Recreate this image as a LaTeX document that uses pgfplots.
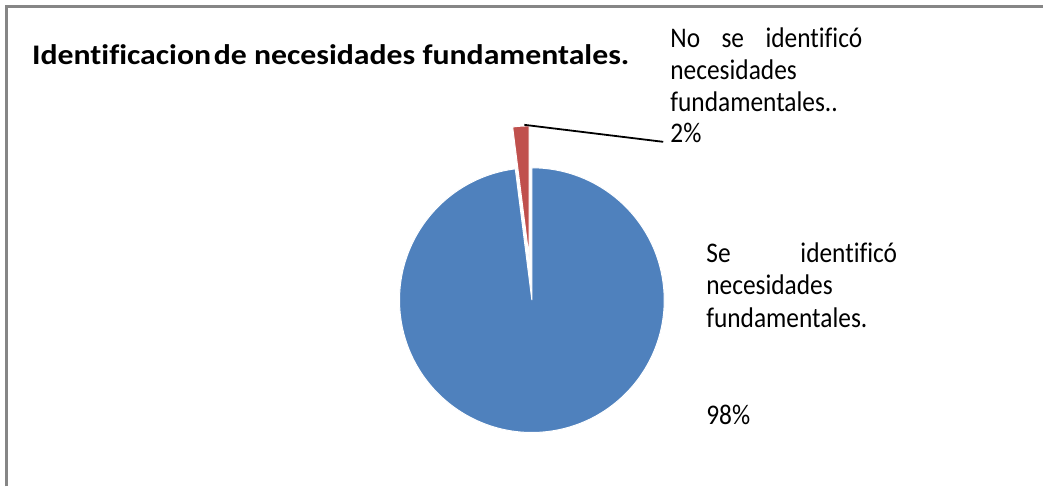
\documentclass[border=0pt]{standalone}
\usepackage{pgfplots}
\pgfplotsset{compat=1.18}
\usepackage{pgfplotstable}
\usepackage{fontspec}
\setmainfont{Carlito}[Ligatures=NoCommon]
\definecolor{pieblue}{HTML}{4F81BD}
\definecolor{piered}{HTML}{C0504D}
\definecolor{framegray}{HTML}{868686}
\pgfplotstableread{
label value
Se 98
No 2
}\piedata
\begin{document}
\begin{tikzpicture}
\pgfplotstablegetelem{0}{value}\of\piedata \pgfmathsetmacro\va{\pgfplotsretval}
\pgfplotstablegetelem{1}{value}\of\piedata \pgfmathsetmacro\vb{\pgfplotsretval}
\pgfmathsetmacro\angB{3.6*\vb}
\pgfmathsetmacro\angA{3.6*\va}
\pgfmathsetmacro\bluestart{90+\angB}
\pgfmathsetmacro\blueend{90+\angB+\angA}
\pgfmathsetmacro\redend{90+\angB}
\pgfmathsetmacro\bis{90+\angB/2}
\pgfmathsetmacro\redcx{532.5+42*cos(\bis)}
\pgfmathsetmacro\redcy{186.5+42*sin(\bis)}
\begin{axis}[
  width=1044bp, height=487bp, scale only axis,
  xmin=0, xmax=1044, ymin=0, ymax=487,
  hide axis, clip=false,
]
\path (axis cs:0,0) rectangle (axis cs:1044,487);
% frame
\draw[framegray, line width=2.5bp] (axis cs:6.5,0) -- (axis cs:6.5,480.5) -- (axis cs:1044,480.5);
% pie slices
\fill[pieblue, draw=white, line width=1bp] (axis cs:532.5,186.5) -- ++(\bluestart:132.5bp) arc[start angle=\bluestart, end angle=\blueend, radius=132.5bp] -- cycle;
\fill[piered, draw=white, line width=1bp] (axis cs:\redcx,\redcy) -- ++(90:132.5bp) arc[start angle=90, end angle=\redend, radius=132.5bp] -- cycle;
% leader line
\draw[black, line width=1.8bp] (axis cs:525,362) -- (axis cs:664,345);
% title
\node[anchor=base west, inner sep=0, xscale=1.12, font=\fontsize{28.5}{32}\selectfont\bfseries] at (axis cs:32,422) {Identificacion\hspace{2.5bp}de necesidades fundamentales.};
% labels
\begin{scope}[every node/.style={anchor=base west, inner sep=0, yscale=1.12, font=\fontsize{25.5}{30}\selectfont}]
\node at (axis cs:671,439) {\makebox[192bp][l]{No\hfill se\hfill identificó}};
\node at (axis cs:671,407) {necesidades};
\node at (axis cs:671,375) {fundamentales..};
\node at (axis cs:671,344) {2\%};
\node at (axis cs:707,224) {\makebox[191bp][l]{Se\hfill identificó}};
\node at (axis cs:707,192) {necesidades};
\node at (axis cs:707,159) {fundamentales.};
\node at (axis cs:707,62) {98\%};
\end{scope}
\end{axis}
\end{tikzpicture}
\end{document}
